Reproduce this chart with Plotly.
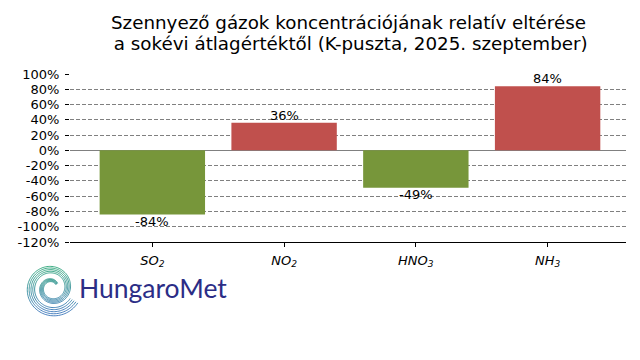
import numpy as np
import plotly.graph_objects as go

categories = ["<i>SO<sub>2</sub></i>", "<i>NO<sub>2</sub></i>", "<i>HNO<sub>3</sub></i>", "<i>NH<sub>3</sub></i>"]
values = [-84, 36, -49, 84]
labels = ["-84%", "36%", "-49%", "84%"]
ytick_vals = [100, 80, 60, 40, 20, 0, -20, -40, -60, -80, -100, -120]
ytick_text = [f"{v}%" for v in ytick_vals]

GREEN = "#77963A"
RED = "#C0504D"
colors = [RED if v > 0 else GREEN for v in values]
xpos = list(range(len(categories)))

fig = go.Figure()
fig.add_trace(go.Bar(
    x=xpos, y=values, width=0.8,
    marker=dict(color=colors, line=dict(width=0)),
    hoverinfo="skip",
))

L, R, T, B = 70, 14, 74, 118
W, H = 640, 360
pw, ph = W - L - R, H - T - B

def px(x):
    return (x - L) / pw

def py(y):
    return (H - B - y) / ph

def mix(c1, c2, f):
    f = min(max(f, 0), 1)
    a = [int(c1[i:i + 2], 16) for i in (1, 3, 5)]
    b = [int(c2[i:i + 2], 16) for i in (1, 3, 5)]
    return "#" + "".join(f"{round(x + (y - x) * f):02x}" for x, y in zip(a, b))

shapes = []
# logo spiral (decoration)
cx, cy = 52, 288
th_all = np.radians(np.linspace(40, 690, 66))
for j in range(5):
    for k in range(len(th_all) - 1):
        t = np.linspace(th_all[k], th_all[k + 1], 4)
        frac = (t - th_all[0]) / (th_all[-1] - th_all[0])
        r = 5 + 16 * frac + j * (0.6 + 1.6 * frac)
        xs = cx + r * np.cos(t)
        ys = cy - r * np.sin(t)
        f = (ys.mean() - (cy - 24)) / 48
        col = mix("#0E9C62", "#1F63B0", f)
        path = "M " + " L ".join(f"{px(a):.4f},{py(b):.4f}" for a, b in zip(xs, ys))
        shapes.append(dict(type="path", path=path, xref="paper", yref="paper",
                           line=dict(color=col, width=0.8)))

annotations = [
    dict(text="Szennyező gázok koncentrációjának relatív eltérése",
         xref="paper", yref="paper", x=0.5, y=py(23), xanchor="center", yanchor="middle",
         showarrow=False, font=dict(family="DejaVu Sans", size=18.3, color="black")),
    dict(text=" a sokévi átlagértéktől (K-puszta, 2025. szeptember)",
         xref="paper", yref="paper", x=0.5, y=py(44), xanchor="center", yanchor="middle",
         showarrow=False, font=dict(family="DejaVu Sans", size=18.3, color="black")),
    dict(text="HungaroMet", xref="paper", yref="paper", x=px(77), y=py(288),
         xanchor="left", yanchor="middle", showarrow=False,
         font=dict(family="Lato", size=26.5, color="#2B2D86")),
]
for xv, v, lab in zip(xpos, values, labels):
    annotations.append(dict(
        text=lab, x=xv, y=v, xref="x", yref="y", showarrow=False,
        xanchor="center", yanchor="middle", yshift=7.5 if v > 0 else -7,
        font=dict(family="DejaVu Sans", size=13, color="black")))

fig.update_layout(
    width=W, height=H,
    margin=dict(l=L, r=R, t=T, b=B),
    paper_bgcolor="white", plot_bgcolor="white",
    showlegend=False,
    font=dict(family="DejaVu Sans", size=13, color="black"),
    bargap=0.2,
    shapes=shapes,
    xaxis=dict(
        range=[-0.625, 3.595], tickmode="array", tickvals=xpos,
        ticktext=categories, showline=True, linecolor="black", linewidth=1,
        ticks="outside", ticklen=4, tickcolor="black", showgrid=False, zeroline=False,
        tickfont=dict(family="DejaVu Sans", size=13), ticklabelstandoff=2,
    ),
    yaxis=dict(
        range=[-120, 100], tickmode="array", tickvals=ytick_vals, ticktext=ytick_text,
        showline=False, ticks="outside", ticklen=4, tickcolor="black",
        showgrid=True, gridcolor="#808080", gridwidth=0.8, griddash="4px,2px",
        zeroline=True, zerolinecolor="#808080", zerolinewidth=1,
        tickfont=dict(family="DejaVu Sans", size=13), ticklabelstandoff=3,
    ),
    annotations=annotations,
)

fig.write_html("out.html")
